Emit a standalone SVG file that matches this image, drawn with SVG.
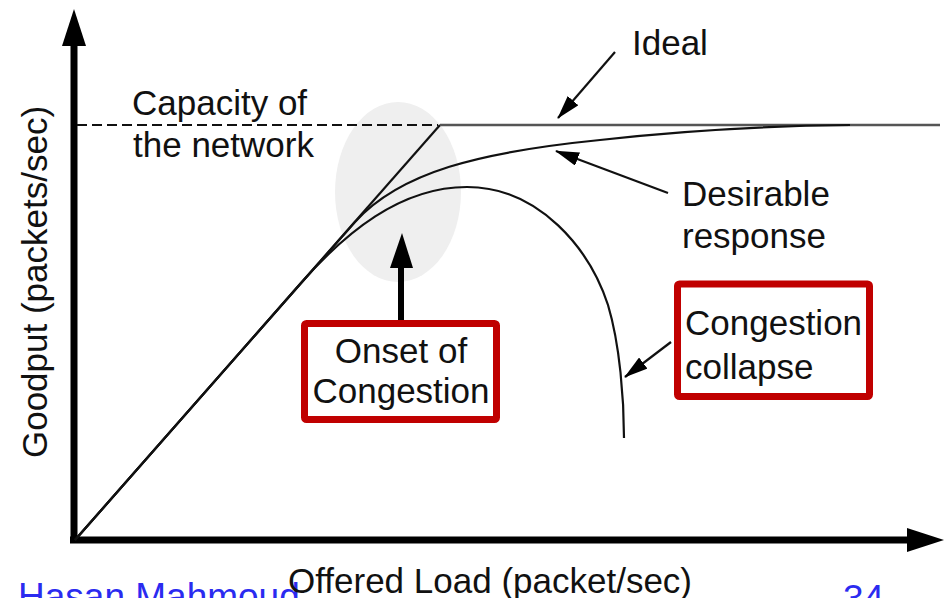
<svg xmlns="http://www.w3.org/2000/svg" width="946" height="598" viewBox="0 0 946 598">
  <style>
    .lbl { font-family: "Liberation Sans", Arial, sans-serif; font-size: 35px; fill: #111; }
    .foot { font-family: "Liberation Sans", Arial, sans-serif; font-size: 37px; fill: #2b2bf0; }
    .curve { fill: none; stroke: #111; stroke-width: 2.2; stroke-linejoin: round; }
    .pointer { fill: none; stroke: #111; stroke-width: 2.2; }
    .axis { stroke: #000; stroke-width: 7; fill: none; }
    .redbox { fill: #fff; stroke: #c00000; stroke-width: 7; }
  </style>
  <defs>
    <marker id="head" viewBox="0 0 24 14" refX="23" refY="7" markerWidth="24" markerHeight="14" markerUnits="userSpaceOnUse" orient="auto">
      <path d="M0,0 L24,7 L0,14 z" fill="#000"/>
    </marker>
  </defs>

  <rect width="946" height="598" fill="#fff"/>

  <!-- highlighted region where congestion begins -->
  <ellipse id="onset-region" cx="398" cy="192" rx="63" ry="90" fill="#efefef"/>

  <!-- axes -->
  <g id="axes">
    <line class="axis" x1="74" y1="543" x2="74" y2="40"/>
    <polygon points="74,9 62,46 86,46" fill="#000"/>
    <line class="axis" x1="70" y1="540" x2="910" y2="540"/>
    <polygon points="944,540 907,528 907,552" fill="#000"/>
  </g>

  <!-- throughput curves -->
  <g id="curves">
    <line x1="77" y1="125" x2="438" y2="125" stroke="#111" stroke-width="2" stroke-dasharray="10 5"/>
    <path id="ideal" class="curve" d="M75,540 L440,125"/>
    <line x1="440" y1="125" x2="940" y2="125" stroke="#555" stroke-width="2.5"/>
    <path id="desirable" class="curve" d="M75,540 L355,222 C400,172 480,152 600,140 C680,131 760,126 850,125"/>
    <path id="collapse" class="curve" d="M75,540 L300,284 C345,233 400,187 467,187 C540,187 590,250 608,305 C620,345 624,400 624,438"/>
  </g>

  <!-- label pointers -->
  <g id="connectors">
    <line class="pointer" x1="615" y1="52" x2="558" y2="118" marker-end="url(#head)"/>
    <line class="pointer" x1="668" y1="193" x2="556" y2="151" marker-end="url(#head)"/>
    <line class="pointer" x1="671" y1="342" x2="625" y2="377" marker-end="url(#head)"/>
    <line x1="401" y1="332" x2="401" y2="262" stroke="#000" stroke-width="6"/>
    <polygon points="402,233 390,268 413,268" fill="#000"/>
  </g>

  <g id="capacity-label">
    <text class="lbl" x="132" y="115">Capacity of</text>
    <text class="lbl" x="133" y="157">the network</text>
  </g>

  <g id="ideal-label">
    <text class="lbl" x="632" y="55">Ideal</text>
  </g>

  <g id="desirable-label">
    <text class="lbl" x="682" y="206">Desirable</text>
    <text class="lbl" x="682" y="248">response</text>
  </g>

  <g id="onset-label">
    <rect class="redbox" x="304.5" y="323.5" width="192" height="96" rx="2"/>
    <text class="lbl" x="401" y="363" text-anchor="middle">Onset of</text>
    <text class="lbl" x="401" y="403" text-anchor="middle">Congestion</text>
  </g>

  <g id="collapse-label">
    <rect class="redbox" x="677.5" y="284" width="192" height="112.5" rx="2"/>
    <text class="lbl" x="685" y="335">Congestion</text>
    <text class="lbl" x="685" y="379">collapse</text>
  </g>

  <g id="y-label">
    <text class="lbl" transform="translate(47,282) rotate(-90)" text-anchor="middle">Goodput (packets/sec)</text>
  </g>

  <g id="footer">
    <text class="foot" x="18" y="609">Hasan Mahmoud</text>
    <text class="foot" x="843" y="611">34</text>
  </g>

  <g id="x-label">
    <text class="lbl" x="490" y="593" text-anchor="middle">Offered Load (packet/sec)</text>
  </g>
</svg>
